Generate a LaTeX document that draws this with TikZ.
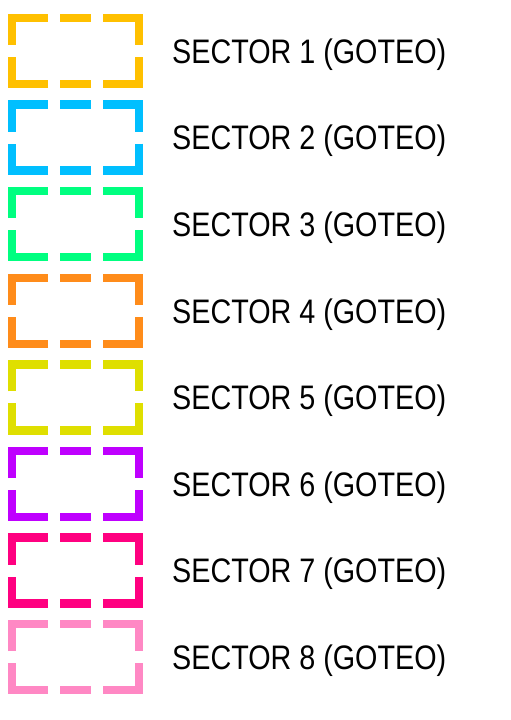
\documentclass[tikz,border=0pt]{standalone}
\usepackage{xcolor}
\usepackage{fontspec}
\usepackage{tikz}
\usetikzlibrary{calc}
\newfontfamily\sectorfont[FakeStretch=0.845]{Liberation Sans}

\definecolor{sec1}{HTML}{FFC000}
\definecolor{sec2}{HTML}{00BFFF}
\definecolor{sec3}{HTML}{00FF80}
\definecolor{sec4}{HTML}{FF8C1A}
\definecolor{sec5}{HTML}{DFDF00}
\definecolor{sec6}{HTML}{BF00FF}
\definecolor{sec7}{HTML}{FF0080}
\definecolor{sec8}{HTML}{FF88C4}

\begin{document}
\begin{tikzpicture}[x=1pt,y=-1pt,line join=miter]
      \tikzset{
        sectorbox/.style={line width=8.5pt,
          dash pattern=on 31pt off 12pt on 63pt off 12pt on 63pt off 12pt on 31pt off 12pt on 63pt off 12pt on 63pt off 12pt,
          dash phase=15.5pt},
        sectorlbl/.style={anchor=base west,inner sep=0pt,font=\sectorfont\fontsize{34}{40}\selectfont}
      }
      \useasboundingbox (0,0) rectangle (511,720);
      \foreach \i in {1,...,8}{
        \pgfmathsetmacro{\cy}{51+86.6*(\i-1)}
        \coordinate (c\i) at (75.5,\cy);
        \draw[sectorbox,sec\i] ($(c\i)+(0,-33)$) -- ($(c\i)+(63.5,-33)$) -- ($(c\i)+(63.5,33)$)
          -- ($(c\i)+(-63.5,33)$) -- ($(c\i)+(-63.5,-33)$) -- cycle;
        \node[sectorlbl] (lbl\i) at (172,\cy+12.3) {SECTOR \i{} (GOTEO)};
      }
\end{tikzpicture}
\end{document}
